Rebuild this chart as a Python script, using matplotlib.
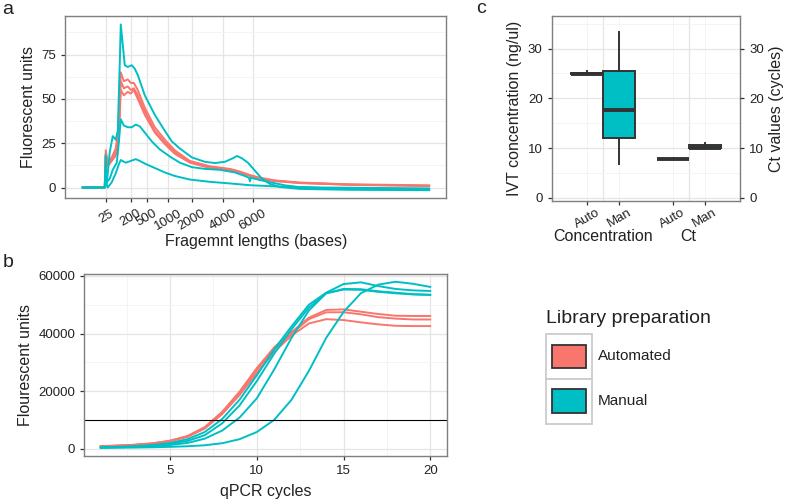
import matplotlib
matplotlib.use('Agg')
import matplotlib.pyplot as plt
from matplotlib.patches import Patch, Rectangle
from matplotlib.legend_handler import HandlerPatch

plt.rcParams['font.family'] = ['Liberation Sans', 'DejaVu Sans']

red = '#F8766D'
teal = '#00BFC4'

# panel a: bioanalyzer traces, x is the time index of the trace
ladder_pos = [23, 48, 64, 85, 109, 140, 170]
ladder_lab = ['25', '200', '500', '1000', '2000', '4000', '6000']

auto_t = [0, 22, 23, 25, 29, 33, 36, 38, 41, 45, 48, 51, 55, 62, 72, 82, 92, 107, 127, 147, 157, 167, 177, 192, 217, 267, 346]
auto_fu_1 = [0, 0, 21, 14, 17, 22, 35, 65, 60, 61, 59, 59, 55, 45, 34, 27, 21, 15, 12, 10.5, 9, 7, 5.5, 4, 2.8, 1.8, 1.2]
auto_fu_2 = [0, 0, 19, 13, 16, 20, 30, 60, 56, 57, 55, 56, 52, 43, 32, 25.5, 20, 14.5, 11.5, 10.2, 8.8, 6.8, 5.3, 3.8, 2.6, 1.6, 1.0]
auto_fu_3 = [0, 0, 17, 12, 15, 18, 27, 55, 52, 54, 53, 55, 50, 41, 31, 24.5, 19, 14, 11, 9.8, 8.5, 6.5, 5, 3.6, 2.5, 1.5, 0.8]

man1_t = [0, 22, 23, 24, 27, 30, 33, 35, 37, 38, 42, 45, 49, 52, 55, 62, 72, 82, 89, 97, 109, 122, 132, 142, 150, 154, 159, 165, 172, 179, 187, 197, 217, 267, 346]
man1_fu = [0, 0, 10, 2, 20, 29, 27, 32, 70, 92, 69, 68, 69, 67, 63.5, 52, 41, 32, 26, 22, 17, 14.5, 13.8, 14.5, 16.5, 17.8, 16.5, 14, 9.5, 5, 2, 0.3, -0.8, -1.3, -1.5]

man2_t = [0, 22, 23, 24, 27, 30, 34, 36, 38, 41, 45, 49, 53, 57, 62, 69, 77, 87, 97, 109, 122, 137, 152, 162, 166, 167, 168, 177, 187, 202, 217, 267, 346]
man2_fu = [0, 0, 18, 3, 5, 10, 14, 25, 38.5, 35, 34, 34, 35.5, 34.5, 31, 26, 21.5, 17.5, 14, 11.5, 10.5, 10, 8.5, 6.5, 5.5, 3.5, 5.5, 4.2, 3, 1.2, 0.2, -0.8, -1.2]

man3_t = [0, 22, 23, 25, 29, 33, 36, 38, 43, 48, 53, 57, 62, 72, 82, 92, 107, 127, 147, 167, 197, 237, 346]
man3_fu = [0, 0, 3, 0, 3, 8, 13, 15.5, 14, 15, 16, 15, 13.5, 11, 8.5, 6.5, 4.5, 3.2, 2.3, 1.3, 0.5, 0, -0.5]

# panel b: qPCR amplification
cycles = list(range(1, 21))
auto_qpcr_1 = [900, 1100, 1400, 1900, 2800, 4400, 7500, 12800, 19800, 28000, 35200, 40500, 45500, 48200, 48400, 47600, 46800, 46200, 46100, 46100]
auto_qpcr_2 = [850, 1050, 1350, 1850, 2700, 4300, 7300, 12500, 19300, 27300, 34600, 40000, 45000, 47400, 47400, 46700, 45700, 45200, 44900, 44900]
auto_qpcr_3 = [800, 1000, 1300, 1750, 2600, 4100, 7000, 12000, 18600, 26300, 33600, 39300, 43500, 45000, 44700, 43900, 43200, 42700, 42600, 42600]
man_qpcr_1 = [500, 650, 900, 1300, 2000, 3300, 5800, 10300, 17000, 25500, 34500, 42500, 50000, 54200, 57200, 57800, 56500, 55500, 55000, 54800]
man_qpcr_2 = [450, 600, 800, 1100, 1700, 2700, 4700, 8800, 15000, 23500, 33000, 41500, 49000, 54000, 55500, 55400, 54700, 54200, 53700, 53500]
man_qpcr_3 = [400, 500, 650, 900, 1300, 2000, 3500, 6300, 10800, 17500, 27500, 38500, 48000, 54000, 55300, 55200, 54500, 54000, 53600, 53400]
man_qpcr_4 = [300, 350, 400, 500, 650, 850, 1200, 1900, 3300, 5800, 10000, 17000, 27000, 38500, 47500, 54000, 57000, 58000, 57300, 56200]
threshold = 10000

# panel c: box stats  (whislo, q1, med, q3, whishi)
groups = ['Concentration', 'Ct']
methods = ['Auto', 'Man']
conc_auto = [24.8, 24.8, 24.9, 25.0, 25.4]
conc_man = [6.7, 12.1, 17.7, 25.5, 33.4]
ct_auto = [7.7, 7.7, 7.8, 7.85, 7.9]
ct_man = [9.95, 9.95, 10.05, 10.65, 11.1]

legend_labels = ['Automated', 'Manual']

tick_fs = 9.5
lab_fs = 11.5
txt_col = '#222222'


def style(ax):
    for s in ax.spines.values():
        s.set_color('#7f7f7f')
        s.set_linewidth(1.0)
    ax.set_axisbelow(True)
    ax.grid(True, which='major', color='#e5e5e5', lw=0.9)
    ax.grid(True, which='minor', color='#f3f3f3', lw=0.6)
    ax.tick_params(which='major', length=3, width=0.9, color='#333333',
                   labelsize=tick_fs, labelcolor=txt_col)
    ax.tick_params(which='minor', length=0)


fig = plt.figure(figsize=(7.87, 5.01), dpi=100)

# ---- a
ax_a = fig.add_axes([0.0831, 0.6038, 0.4842, 0.3633])
for fu in [auto_fu_1, auto_fu_2, auto_fu_3]:
    ax_a.plot(auto_t, fu, color=red, lw=1.4)
ax_a.plot(man1_t, man1_fu, color=teal, lw=1.4)
ax_a.plot(man2_t, man2_fu, color=teal, lw=1.4)
ax_a.plot(man3_t, man3_fu, color=teal, lw=1.4)
ax_a.set_xlim(-17.3, 363.3)
ax_a.set_ylim(-6.2, 96.5)
ax_a.set_xticks(ladder_pos, ladder_lab, rotation=30, ha='center')
ax_a.set_yticks([0, 25, 50, 75])
ax_a.set_yticks([12.5, 37.5, 62.5, 87.5], minor=True)
style(ax_a)
ax_a.set_xlabel('Fragemnt lengths (bases)', fontsize=lab_fs, color=txt_col, labelpad=1)
ax_a.set_ylabel('Fluorescent units', fontsize=lab_fs, color=txt_col)

# ---- b
ax_b = fig.add_axes([0.1071, 0.0898, 0.4605, 0.3633])
for q in [auto_qpcr_1, auto_qpcr_2, auto_qpcr_3]:
    ax_b.plot(cycles, q, color=red, lw=1.4)
for q in [man_qpcr_1, man_qpcr_2, man_qpcr_3, man_qpcr_4]:
    ax_b.plot(cycles, q, color=teal, lw=1.4)
ax_b.axhline(threshold, color='black', lw=0.8)
ax_b.set_xlim(0.05, 20.95)
ax_b.set_ylim(-2536, 60695)
ax_b.set_xticks([5, 10, 15, 20])
ax_b.set_xticks([2.5, 7.5, 12.5, 17.5], minor=True)
ax_b.set_yticks([0, 20000, 40000, 60000])
ax_b.set_yticks([10000, 30000, 50000], minor=True)
style(ax_b)
ax_b.set_xlabel('qPCR cycles', fontsize=lab_fs, color=txt_col, labelpad=5)
ax_b.set_ylabel('Flourescent units', fontsize=lab_fs, color=txt_col)

# ---- c
ax_c = fig.add_axes([0.701, 0.5988, 0.2393, 0.3693])
box_w = 0.375
stats = []
pos = []
cols = []
for gi, vals in enumerate([[conc_auto, conc_man], [ct_auto, ct_man]]):
    for mi, v in enumerate(vals):
        stats.append(dict(whislo=v[0], q1=v[1], med=v[2], q3=v[3], whishi=v[4], fliers=[]))
        pos.append(gi + 1 + (mi - 0.5) * box_w)
        cols.append([red, teal][mi])
bp = ax_c.bxp(stats, positions=pos, widths=box_w, patch_artist=True, showcaps=False,
              boxprops=dict(edgecolor='#333333', lw=1.4),
              whiskerprops=dict(color='#333333', lw=1.4),
              medianprops=dict(color='#333333', lw=2.8, solid_capstyle='butt'))
for b, c in zip(bp['boxes'], cols):
    b.set_facecolor(c)
ax_c.set_xlim(0.4, 2.6)
ax_c.set_ylim(-0.66, 36.56)
ax_c.set_xticks([1, 2], groups)
ax_c.set_xticks(pos, methods * 2, minor=True, rotation=30, ha='center')
ax_c.set_yticks([0, 10, 20, 30])
ax_c.set_yticks([5, 15, 25, 35], minor=True)
style(ax_c)
ax_c.tick_params(axis='x', which='major', length=0, pad=20, labelsize=lab_fs)
ax_c.tick_params(axis='x', which='minor', length=3, width=0.9, color='#333333',
                 labelsize=tick_fs, labelcolor=txt_col, pad=1)
ax_c.set_ylabel('IVT concentration (ng/ul)', fontsize=lab_fs, color=txt_col)
ax_c2 = ax_c.twinx()
ax_c2.set_ylim(ax_c.get_ylim())
ax_c2.set_yticks([0, 10, 20, 30])
for s in ax_c2.spines.values():
    s.set_visible(False)
ax_c2.tick_params(length=3, width=0.9, color='#333333', labelsize=tick_fs, labelcolor=txt_col)
ax_c2.set_ylabel('Ct values (cycles)', fontsize=lab_fs, color=txt_col)

# panel letters
fig.text(0.003, 0.973, 'a', fontsize=14, color=txt_col)
fig.text(0.003, 0.468, 'b', fontsize=14, color=txt_col)
fig.text(0.605, 0.974, 'c', fontsize=14, color=txt_col)


class KeyHandler(HandlerPatch):
    def create_artists(self, legend, orig_handle, xdescent, ydescent,
                       width, height, fontsize, trans):
        outer = Rectangle((-xdescent, -ydescent), width, height, facecolor='white',
                          edgecolor='#cccccc', lw=1.3, transform=trans)
        iw, ih = width * 0.76, height * 0.53
        inner = Rectangle((-xdescent + (width - iw) / 2, -ydescent + (height - ih) / 2), iw, ih,
                          facecolor=orig_handle.get_facecolor(), edgecolor='#333333',
                          lw=1.3, transform=trans)
        return [outer, inner]


handles = [Patch(facecolor=red), Patch(facecolor=teal)]
leg = fig.legend(handles, legend_labels, title='Library preparation', loc='upper left',
                 bbox_to_anchor=(546 / 787, 1 - 310 / 501), frameon=False, borderpad=0,
                 borderaxespad=0, handlelength=3.0, handleheight=4.15, labelspacing=0,
                 handletextpad=0.37, fontsize=11, title_fontsize=14, alignment='left',
                 handler_map={Patch: KeyHandler()})
leg._legend_box.sep = 5
for t in leg.get_texts():
    t.set_color(txt_col)
leg.get_title().set_color(txt_col)

fig.savefig('out.png', dpi=100)
